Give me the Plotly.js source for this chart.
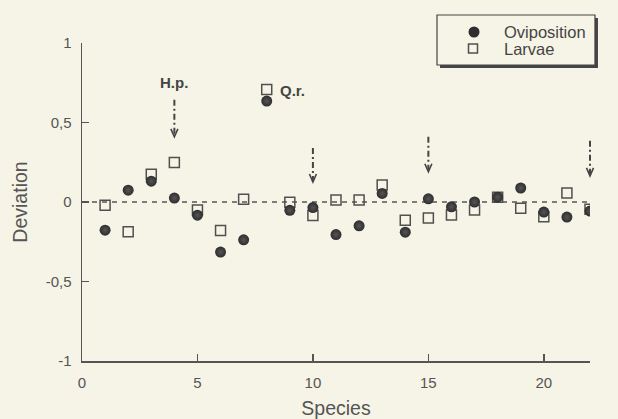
<!DOCTYPE html>
<html>
<head>
<meta charset="utf-8">
<script src="https://cdn.plot.ly/plotly-3.0.1.min.js"></script>
<style>html,body{margin:0;padding:0;background:#f6f4e6;}#chart{width:618px;height:419px;}</style>
</head>
<body>
<div id="chart"></div>
<script>
// ---- data ----
const species = [1,2,3,4,5,6,7,8,9,10,11,12,13,14,15,16,17,18,19,20,21,22];
const oviposition = [-0.177, 0.074, 0.131, 0.025, -0.083, -0.315, -0.238, 0.635, -0.052, -0.035, -0.205, -0.15, 0.054, -0.19, 0.02, -0.03, 0.0, 0.03, 0.088, -0.063, -0.095, -0.057];
const larvae = [-0.02, -0.187, 0.175, 0.248, -0.05, -0.18, 0.017, 0.707, -0.002, -0.085, 0.013, 0.013, 0.107, -0.114, -0.10, -0.082, -0.05, 0.03, -0.04, -0.093, 0.057, -0.045];
const seriesNames = ['Oviposition', 'Larvae'];
const xRange = [0, 22];
const yRange = [-1, 1];
const xTickVals = [0, 5, 10, 15, 20];
const yTickVals = [-1, -0.5, 0, 0.5, 1];
const yTickText = ['-1', '-0,5', '0', '0,5', '1'];
// arrows: species position, top of shaft, tip
const arrowX = [4, 10, 15, 22];
const arrowTop = [0.643, 0.34, 0.41, 0.385];
const arrowTip = [0.41, 0.126, 0.19, 0.164];
// labels
const labelText = ['H.p.', 'Q.r.'];
const labelX = [4, 8.5];
const labelY = [0.75, 0.70];
const labelAnchor = ['center', 'left'];

const FONT = 'Liberation Sans, Arial, sans-serif';
const INK = '#444';
const BG = '#f6f4e6';
const OVI_COLOR = '#2e2e2e';
const LAR_COLOR = '#505050';

const traces = [
  {x: species, y: larvae, name: seriesNames[1], type: 'scatter', mode: 'markers', showlegend: false,
   marker: {symbol: 'square-open', size: 10, color: LAR_COLOR, line: {width: 1.5, color: LAR_COLOR}}},
  {x: species, y: oviposition, name: seriesNames[0], type: 'scatter', mode: 'markers', showlegend: false,
   marker: {symbol: 'circle', size: 11, color: OVI_COLOR, gradient: {type: 'radial', color: '#555'}, line: {width: 0}}}
];

const shapes = [
  // zero reference line
  {type: 'line', xref: 'x', yref: 'y', x0: xRange[0], x1: xRange[1], y0: 0, y1: 0, layer: 'below',
   line: {color: '#555', width: 1.3, dash: '5px,5px'}},
  // legend box shadow and box
  {type: 'rect', xref: 'paper', yref: 'paper', x0: 0.7047, x1: 1.0157, y0: 0.9214, y1: 1.0786,
   fillcolor: '#444', line: {width: 0}, layer: 'above'},
  {type: 'rect', xref: 'paper', yref: 'paper', x0: 0.6988, x1: 1.0098, y0: 0.9308, y1: 1.0881,
   fillcolor: BG, line: {width: 1.2, color: '#444'}, layer: 'above'},
  // legend symbols
  {type: 'circle', xref: 'paper', yref: 'paper', xsizemode: 'pixel', ysizemode: 'pixel',
   xanchor: 0.7717, yanchor: 1.0346, x0: -5.5, x1: 5.5, y0: -5.5, y1: 5.5,
   fillcolor: OVI_COLOR, line: {width: 0}, layer: 'above'},
  {type: 'rect', xref: 'paper', yref: 'paper', xsizemode: 'pixel', ysizemode: 'pixel',
   xanchor: 0.7697, yanchor: 0.9827, x0: -4.5, x1: 4.5, y0: -4.5, y1: 4.5,
   fillcolor: 'rgba(0,0,0,0)', line: {width: 1.5, color: LAR_COLOR}, layer: 'above'}
];
arrowX.forEach((ax, i) => {
  const fx = (ax - xRange[0]) / (xRange[1] - xRange[0]);
  shapes.push({type: 'line', xref: 'x domain', yref: 'y', x0: fx, x1: fx, y0: arrowTop[i], y1: arrowTip[i],
    line: {color: INK, width: 2, dash: '6px,3px,2px,3px'}, layer: 'above'});
  shapes.push({type: 'path', xref: 'x domain', yref: 'y', xsizemode: 'pixel', ysizemode: 'pixel',
    xanchor: fx, yanchor: arrowTip[i], path: 'M-3.5,8 L0,0 L3.5,8',
    line: {color: INK, width: 1.6}, layer: 'above'});
});

const annotations = labelText.map((t, i) => ({
  x: labelX[i], y: labelY[i], xref: 'x', yref: 'y', text: '<b>' + t + '</b>', showarrow: false,
  xanchor: labelAnchor[i], yanchor: 'middle', font: {family: FONT, size: 15, color: INK}
}));
// legend labels
const legendTextY = [1.0346, 0.9811];
seriesNames.forEach((n, i) => annotations.push({
  x: 0.8268, y: legendTextY[i], xref: 'paper', yref: 'paper', text: n, showarrow: false,
  xanchor: 'left', yanchor: 'middle', font: {family: FONT, size: 16.5, color: INK}
}));

const axisCommon = {
  showline: true, linecolor: '#555', linewidth: 1.5, ticks: 'inside', ticklen: 7, tickwidth: 1.5,
  tickcolor: '#555', showgrid: false, zeroline: false, mirror: false,
  tickfont: {family: FONT, size: 15, color: '#555'}
};

const layout = {
  width: 618, height: 419,
  paper_bgcolor: BG, plot_bgcolor: BG,
  margin: {l: 82, r: 28, t: 43, b: 58},
  font: {family: FONT, color: '#555'},
  xaxis: Object.assign({}, axisCommon, {range: xRange, tickmode: 'array', tickvals: xTickVals,
    ticklabelstandoff: 7,
    title: {text: 'Species', font: {family: FONT, size: 19.5, color: '#555'}, standoff: 15}}),
  yaxis: Object.assign({}, axisCommon, {range: yRange, tickmode: 'array', tickvals: yTickVals, ticktext: yTickText,
    ticklabelstandoff: 6,
    title: {text: 'Deviation', font: {family: FONT, size: 19.5, color: '#555'}, standoff: 13}}),
  showlegend: false,
  shapes: shapes,
  annotations: annotations
};

Plotly.newPlot('chart', traces, layout, {displayModeBar: false, staticPlot: true});
</script>
</body>
</html>
